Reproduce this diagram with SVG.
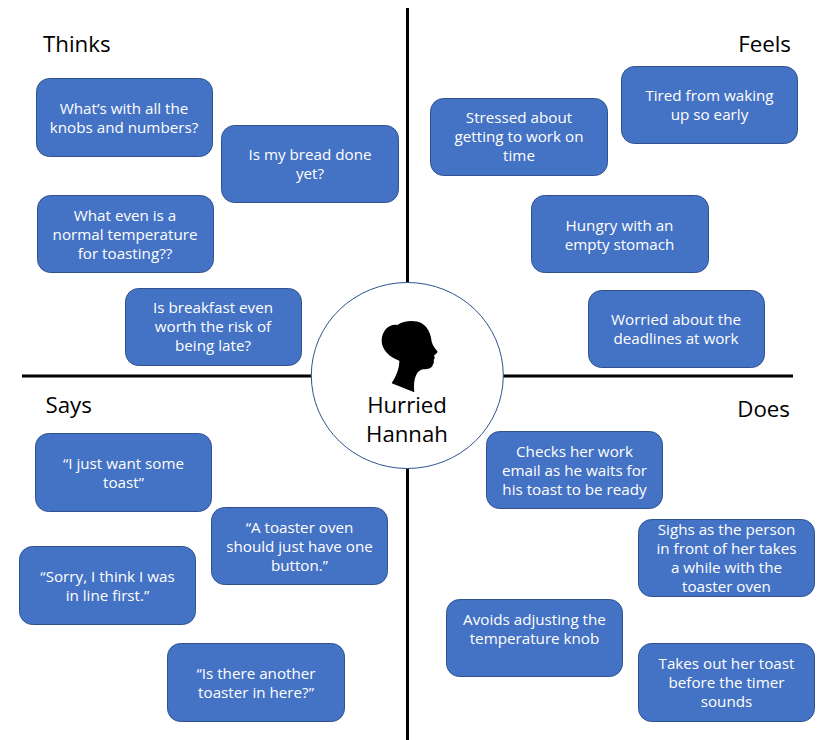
<svg xmlns="http://www.w3.org/2000/svg" width="828" height="740" viewBox="0 0 828 740">
<style>
text{font-family:"Open Sans","Noto Sans","Liberation Sans",sans-serif}
.b rect{fill:#4472c4;stroke:#2f528f;stroke-width:1}
.b text{fill:#fff;font-size:15.2px;text-anchor:middle}
.t{fill:#000;font-size:22.3px}
.n{fill:#000;font-size:22.2px;text-anchor:middle}
.l{stroke:#000;stroke-width:3;fill:none}
</style>
<rect width="828" height="740" fill="#fff"/>
<g id="connectors">
<path class="l" d="M407.5 8V283M407.5 468V740M22 376H312M503 376H793"/>
</g>
<g id="center">
<ellipse cx="407.3" cy="375.5" rx="96" ry="93" fill="#fff" stroke="#2f528f" stroke-width="1"/>
<path transform="translate(300 270) scale(.33333)" fill="#000" d="M275,340 C290,315 298,295 298,272 C270,262 245,240 245,212 C245,180 270,160 292,165 C310,152 345,148 365,160 C385,172 393,195 395,215 C398,228 408,238 413,245 C410,252 403,253 402,257 C406,262 403,268 401,270 C403,275 401,280 399,283 C397,295 385,298 370,298 C352,298 338,325 343,367 Z"/>
<text class="n" x="407" y="413">Hurried</text>
<text class="n" x="407" y="442">Hannah</text>
</g>
<g id="title-thinks"><text class="t" x="43" y="52">Thinks</text></g>
<g id="title-feels"><text class="t" x="791" y="52" text-anchor="end">Feels</text></g>
<g id="title-says"><text class="t" x="45.5" y="413">Says</text></g>
<g id="title-does"><text class="t" x="790" y="417" text-anchor="end">Does</text></g>
<g id="thinks-1" class="b"><rect x="36.5" y="78.5" width="176" height="78" rx="13"/><text x="124" y="114">What’s with all the</text><text x="124" y="133">knobs and numbers?</text></g>
<g id="thinks-2" class="b"><rect x="221.5" y="125.5" width="177" height="77" rx="13"/><text x="310" y="160">Is my bread done</text><text x="310" y="179">yet?</text></g>
<g id="thinks-3" class="b"><rect x="37.5" y="195.5" width="176" height="77" rx="13"/><text x="125" y="221">What even is a</text><text x="125" y="240">normal temperature</text><text x="125" y="259">for toasting??</text></g>
<g id="thinks-4" class="b"><rect x="125.5" y="288.5" width="176" height="77" rx="13"/><text x="213" y="313">Is breakfast even</text><text x="213" y="332">worth the risk of</text><text x="213" y="351">being late?</text></g>
<g id="feels-1" class="b"><rect x="430.5" y="98.5" width="177" height="77" rx="13"/><text x="519" y="123">Stressed about</text><text x="519" y="142">getting to work on</text><text x="519" y="161">time</text></g>
<g id="feels-2" class="b"><rect x="621.5" y="66.5" width="176" height="77" rx="13"/><text x="709.5" y="101">Tired from waking</text><text x="709.5" y="120">up so early</text></g>
<g id="feels-3" class="b"><rect x="531.5" y="195.5" width="177" height="77" rx="13"/><text x="619.5" y="231">Hungry with an</text><text x="619.5" y="250">empty stomach</text></g>
<g id="feels-4" class="b"><rect x="588.5" y="290.5" width="176" height="77" rx="13"/><text x="676" y="325">Worried about the</text><text x="676" y="344">deadlines at work</text></g>
<g id="says-1" class="b"><rect x="35.5" y="433.5" width="176" height="78" rx="13"/><text x="123.5" y="469">“I just want some</text><text x="123.5" y="488">toast”</text></g>
<g id="says-2" class="b"><rect x="211.5" y="507.5" width="176" height="77" rx="13"/><text x="299.5" y="533">“A toaster oven</text><text x="299.5" y="552">should just have one</text><text x="299.5" y="571">button.”</text></g>
<g id="says-3" class="b"><rect x="19.5" y="546.5" width="176" height="78" rx="13"/><text x="107.5" y="582">“Sorry, I think I was</text><text x="107.5" y="601">in line first.”</text></g>
<g id="says-4" class="b"><rect x="167.5" y="643.5" width="177" height="78" rx="13"/><text x="256" y="679">“Is there another</text><text x="256" y="698">toaster in here?”</text></g>
<g id="does-1" class="b"><rect x="486.5" y="431.5" width="176" height="77" rx="13"/><text x="574.5" y="457">Checks her work</text><text x="574.5" y="476">email as he waits for</text><text x="574.5" y="495">his toast to be ready</text></g>
<g id="does-2" class="b"><rect x="638.5" y="519.5" width="176" height="77" rx="13"/><text x="726.5" y="535">Sighs as the person</text><text x="726.5" y="554">in front of her takes</text><text x="726.5" y="573">a while with the</text><text x="726.5" y="592">toaster oven</text></g>
<g id="does-3" class="b"><rect x="446.5" y="599.5" width="176" height="77" rx="13"/><text x="534.5" y="625">Avoids adjusting the</text><text x="534.5" y="644">temperature knob</text></g>
<g id="does-4" class="b"><rect x="638.5" y="643.5" width="176" height="78" rx="13"/><text x="726.5" y="669">Takes out her toast</text><text x="726.5" y="688">before the timer</text><text x="726.5" y="707">sounds</text></g>
</svg>
